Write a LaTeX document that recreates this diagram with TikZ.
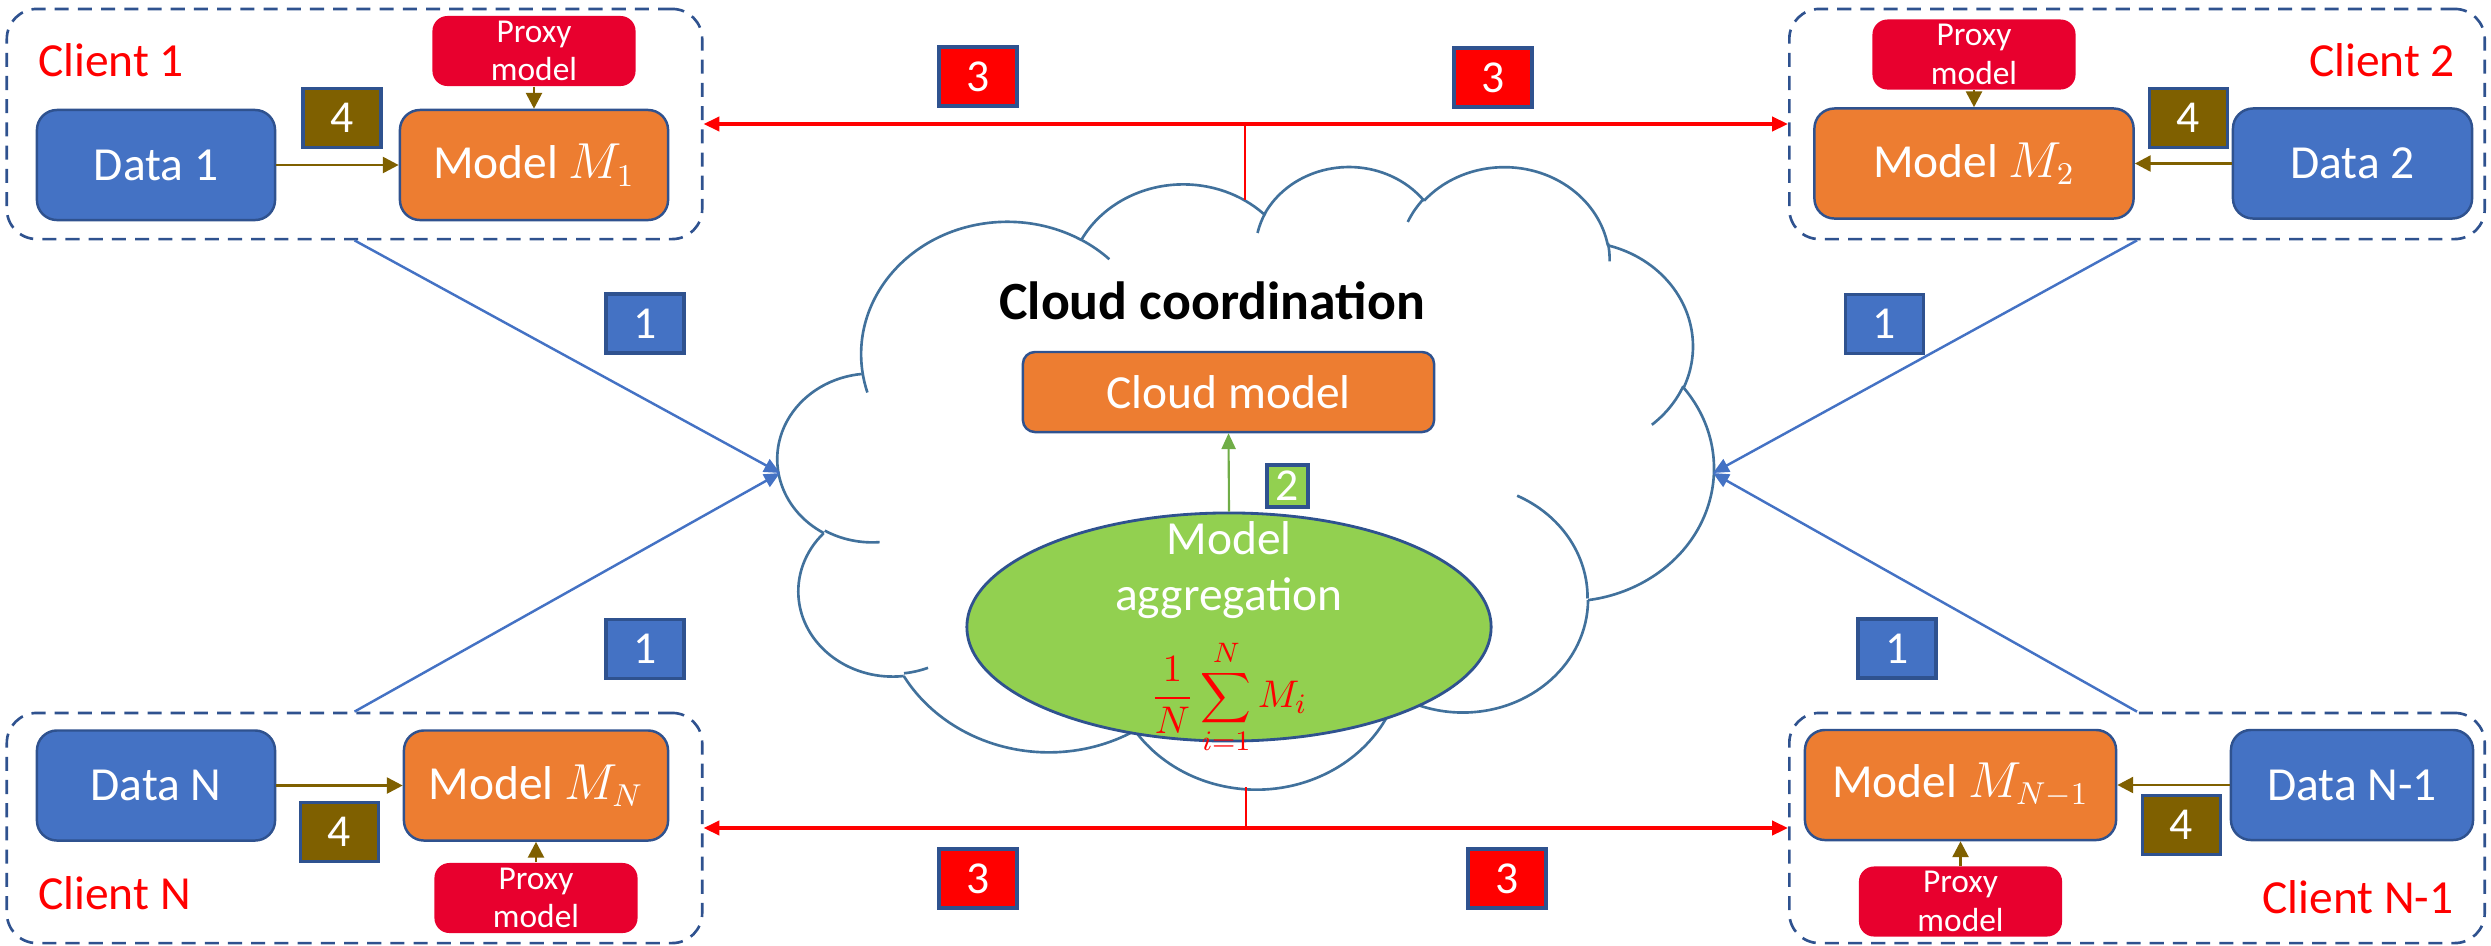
\documentclass[tikz,border=0pt]{standalone}
\usepackage{fontspec}
\setmainfont{Carlito}
\usetikzlibrary{arrows.meta,shapes.geometric}
\definecolor{dblue}{HTML}{4472C4}
\definecolor{edge}{HTML}{2F528F}
\definecolor{orng}{HTML}{ED7D31}
\definecolor{prox}{HTML}{E8002E}
\definecolor{brn}{HTML}{7F6000}
\definecolor{lgreen}{HTML}{92D050}
\definecolor{dgreen}{HTML}{70AD47}
\definecolor{cloudc}{HTML}{41719C}
\definecolor{pred}{HTML}{FF0000}
\tikzset{
 base/.style={font=\fontsize{13.5}{16.5}\selectfont, text=white, inner sep=0pt, line width=0.7pt, draw=edge},
 databox/.style={base, fill=dblue, rounded corners=0.2cm, minimum height=1.1cm},
 modelbox/.style={base, fill=orng, rounded corners=0.2cm, minimum height=1.1cm},
 proxybox/.style={font=\fontsize{9.5}{11}\selectfont, text=white, fill=prox, rounded corners=0.15cm, minimum width=2.03cm, minimum height=0.7cm, align=center, inner sep=0pt},
 clientbox/.style={draw=edge, dash pattern=on 4pt off 2.6pt, line width=0.75pt, rounded corners=0.3cm, minimum width=6.95cm, minimum height=2.3cm, inner sep=0pt},
 clientlabel/.style={text=pred, font=\fontsize{13.5}{16}\selectfont, inner sep=0pt},
 numlab/.style={base, font=\fontsize{13}{15}\selectfont, minimum width=0.78cm, minimum height=0.59cm, line width=0.9pt},
 brownarrow/.style={draw=brn, line width=0.8pt, -{Triangle[length=4.5pt,width=4.5pt]}},
 bluearrow/.style={draw=dblue, line width=0.7pt, -{Triangle[length=4.5pt,width=4pt]}},
 redarrow/.style={draw=pred, line width=1pt, {Triangle[length=4.5pt,width=4pt]}-{Triangle[length=4.5pt,width=4pt]}},
 redstub/.style={draw=pred, line width=0.7pt},
 cloudline/.style={draw=cloudc, line width=0.75pt},
 greenarrow/.style={draw=dgreen, line width=0.6pt, -{Triangle[length=4.5pt,width=4pt]}},
}
\begin{document}
\begin{tikzpicture}[x=0.01cm, y=-0.01cm]
\useasboundingbox (0,0) rectangle (2491,945);

% ---------- cloud ----------
\begin{scope}[shift={(778,165)}, x=1cm, y=1cm, xscale=0.21644, yscale=-0.14398]
\gdef\cldx{3.9}\gdef\cldy{14.37}
\foreach \a/\b/\s/\w in {6.753/9.190/-190.4875/123.7805, 5.333/7.267/-144.1024/89.9452,
  4.365/5.945/-145.8079/99.7230, 4.857/6.595/-130.9861/117.2417, 5.333/7.273/-78.7089/109.0269,
  6.775/9.220/-46.2673/130.2690, 5.785/7.867/0.6250/114.0333, 6.752/9.215/22.4516/115.1726,
  7.720/10.543/66.2426/75.7110, 4.360/5.918/-274.9421/146.7356, 4.345/5.945/-246.8285/152.5189}{
 \pgfmathsetmacro\cta{atan2(\a*sin(\s),\b*cos(\s))}
 \pgfmathsetmacro\ctb{atan2(\a*sin(\s+\w),\b*cos(\s+\w))}
 \pgfmathsetmacro\ctd{mod(\ctb-(\cta)+720,360)}
 \draw[cloudline] (\cldx,\cldy) arc[start angle=\cta, delta angle=\ctd, x radius=\a, y radius=\b];
 \pgfmathsetmacro\cnx{\cldx-\a*cos(\cta)+\a*cos(\cta+\ctd)}
 \pgfmathsetmacro\cny{\cldy-\b*sin(\cta)+\b*sin(\cta+\ctd)}
 \xdef\cldx{\cnx}\xdef\cldy{\cny}
}
\foreach \px/\py/\a/\b/\s/\w in {4.693/26.177/4.345/5.945/86.7420/26.4295,
  6.928/34.899/4.360/5.918/73.6105/11.4475, 16.478/39.090/6.752/9.215/137.6242/14.0811,
  28.827/34.751/6.752/9.215/6.4533/15.9984, 34.129/22.954/5.785/7.867/-70.2924/70.9174,
  41.798/15.354/5.333/7.273/30.3180/27.7515, 38.324/5.426/4.857/6.595/-13.7443/14.8589,
  29.078/3.952/4.857/6.595/-149.1815/18.1954, 22.141/4.720/4.365/5.945/-163.4943/17.6864,
  14.000/5.192/6.753/9.190/-66.7070/12.3194, 4.127/15.789/6.753/9.190/157.6544/11.8582}{
 \pgfmathsetmacro\cta{atan2(\a*sin(\s),\b*cos(\s))}
 \pgfmathsetmacro\ctb{atan2(\a*sin(\s+\w),\b*cos(\s+\w))}
 \pgfmathsetmacro\ctd{mod(\ctb-(\cta)+720,360)}
 \draw[cloudline] (\px,\py) arc[start angle=\cta, delta angle=\ctd, x radius=\a, y radius=\b];
}
\end{scope}

% ---------- client boxes ----------
\node[clientbox] (cl1) at (354.5,124) {};
\node[clientbox] (cl2) at (2137,124) {};
\node[clientbox] (clN) at (354.5,828) {};
\node[clientbox] (clN1) at (2137,828) {};

\node[clientlabel] (t1) at (111,60) {Client 1};
\node[clientlabel] (t2) at (2382,60) {Client 2};
\node[clientlabel] (tN) at (114.5,893) {Client N};
\node[clientlabel] (tN1) at (2358,897) {Client N-1};

% client 1
\node[databox, minimum width=2.38cm] (d1) at (156,165) {Data 1};
\node[modelbox, minimum width=2.68cm] (m1) at (534,165) {Model $M_1$};
\node[proxybox] (p1) at (534,51) {Proxy\\model};
\node[numlab, fill=brn] (f1) at (342,118) {4};
\draw[brownarrow] (d1.east) -- (m1.west);
\draw[brownarrow] (p1.south) -- (p1.south |- m1.north);

% client 2
\node[databox, minimum width=2.39cm] (d2) at (2352.5,163.5) {Data 2};
\node[modelbox, minimum width=3.19cm] (m2) at (1974,163.5) {Model $M_2$};
\node[proxybox] (p2) at (1974,54.5) {Proxy\\model};
\node[numlab, fill=brn] (f2) at (2188.5,118) {4};
\draw[brownarrow] (d2.west) -- (m2.east);
\draw[brownarrow] (p2.south) -- (p2.south |- m2.north);

% client N
\node[databox, minimum width=2.38cm] (dN) at (156,785.5) {Data N};
\node[modelbox, minimum width=2.64cm] (mN) at (536,785.5) {Model $M_N$};
\node[proxybox] (pN) at (536,898) {Proxy\\model};
\node[numlab, fill=brn] (fN) at (339.5,832) {4};
\draw[brownarrow] (dN.east) -- (mN.west);
\draw[brownarrow] (pN.north) -- (pN.north |- mN.south);

% client N-1
\node[databox, minimum width=2.42cm] (dN1) at (2352,785) {Data N-1};
\node[modelbox, minimum width=3.11cm] (mN1) at (1960.5,785) {Model $M_{N-1}$};
\node[proxybox] (pN1) at (1960.5,901.5) {Proxy\\model};
\node[numlab, fill=brn] (fN1) at (2181.5,825) {4};
\draw[brownarrow] (dN1.west) -- (mN1.east);
\draw[brownarrow] (pN1.north) -- (pN1.north |- mN1.south);

% ---------- cloud content ----------
\node[font=\bfseries\fontsize{15.3}{18}\selectfont, inner sep=0pt] (cc) at (1212,301) {Cloud coordination};
\node[modelbox, minimum width=4.11cm, minimum height=0.8cm, rounded corners=0.12cm] (cm) at (1228.5,392) {Cloud model};
\node[ellipse, draw=edge, line width=0.8pt, fill=lgreen, minimum width=5.24cm, minimum height=2.28cm, inner sep=0pt] (agg) at (1229,627) {};
\node[align=center, text=white, font=\fontsize{13.5}{16}\selectfont, inner sep=0pt] (aggt) at (1229,570) {Model\\aggregation};
\node[text=pred, font=\fontsize{11}{13}\selectfont, inner sep=0pt] (aggf) at (1229,697) {$\displaystyle\frac{1}{N}\sum_{i=1}^{N} M_i$};
\draw[greenarrow] (agg.north) -- (cm.south);
\node[numlab, fill=lgreen, minimum width=0.41cm, minimum height=0.42cm] (g2) at (1287.5,486) {2};

% ---------- upload arrows ----------
\coordinate (cL) at (780,473);
\coordinate (cR) at (1713,473);
\draw[bluearrow] (cl1.south) -- (cL);
\draw[bluearrow] (clN.north) -- (cL);
\draw[bluearrow] (cl2.south) -- (cR);
\draw[bluearrow] (clN1.north) -- (cR);
\node[numlab, fill=dblue] (b1) at (645,323.5) {1};
\node[numlab, fill=dblue] (b2) at (1884.5,324) {1};
\node[numlab, fill=dblue] (b3) at (645,649) {1};
\node[numlab, fill=dblue] (b4) at (1897,648.5) {1};

% ---------- distribution arrows ----------
\coordinate (ctop) at (1245,200);
\coordinate (cbot) at (1246,787);
\draw[redarrow] (cl1.east) -- (cl2.west);
\draw[redarrow] (clN.east) -- (clN1.west);
\draw[redstub] (ctop) -- (ctop |- cl1.east);
\draw[redstub] (cbot) -- (cbot |- clN.east);
\node[numlab, fill=pred] (r1) at (978,76.5) {3};
\node[numlab, fill=pred] (r2) at (1493,77.5) {3};
\node[numlab, fill=pred] (r3) at (978,878.5) {3};
\node[numlab, fill=pred] (r4) at (1507,878.5) {3};
\end{tikzpicture}
\end{document}
